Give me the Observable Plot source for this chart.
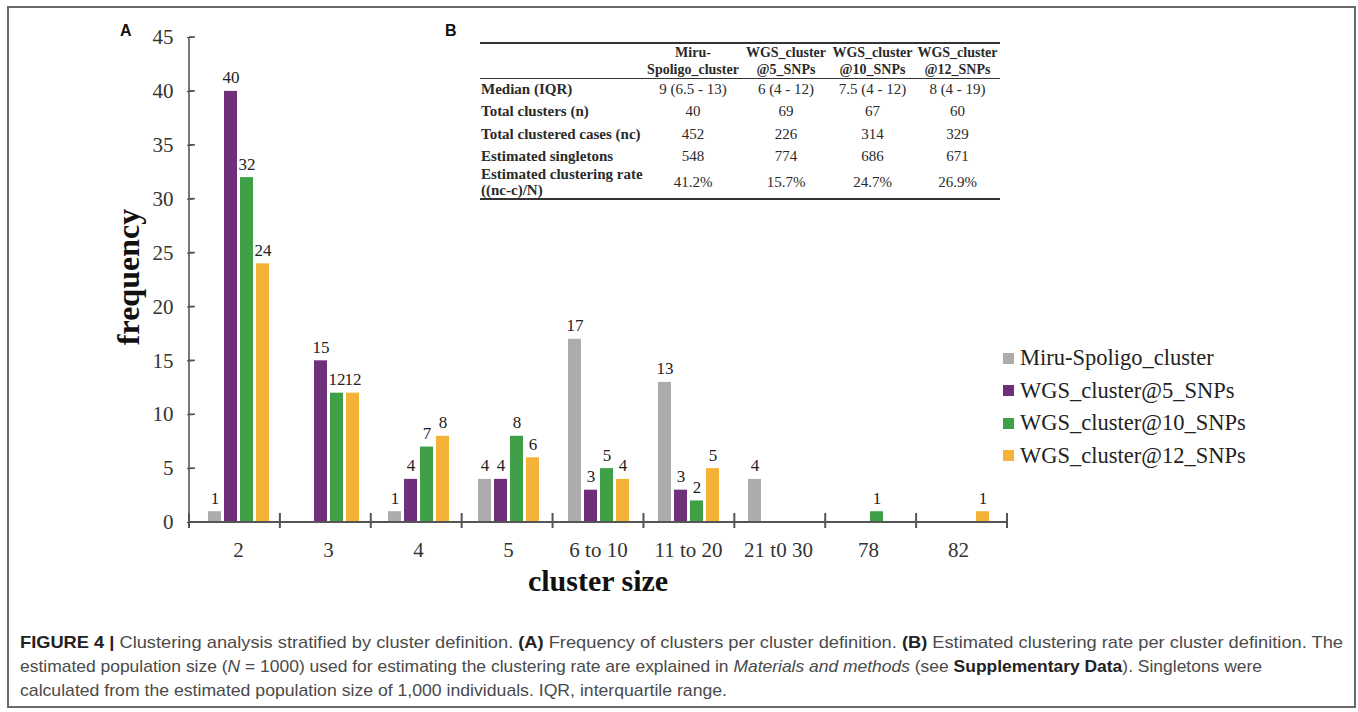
<!DOCTYPE html>
<html>
<head>
<meta charset="utf-8">
<script src="https://cdn.jsdelivr.net/npm/d3@7"></script>
<script src="https://cdn.jsdelivr.net/npm/@observablehq/plot@0.6"></script>
<style>
  html, body { margin: 0; padding: 0; background: #fff; }
  #page { position: relative; width: 1358px; height: 712px; overflow: hidden; background: #fff; }
  #box { position: absolute; left: 7px; top: 6px; width: 1345px; height: 698px; border: 2px solid #6a6a6a; box-sizing: content-box; }
  #chart { position: absolute; left: 0; top: 0; }
  .panel { position: absolute; font-family: "Liberation Sans", Arial, sans-serif; font-weight: bold; font-size: 16px; color: #111; }
  #ylabel { position: absolute; left: 128px; top: 277px; transform: translate(-50%, -50%) rotate(-90deg); font-family: "Liberation Serif", serif; font-weight: bold; font-size: 32px; color: #111; white-space: nowrap; }
  #xlabel { position: absolute; left: 598px; top: 563px; transform: translateX(-50%); font-family: "Liberation Serif", serif; font-weight: bold; font-size: 30px; color: #111; white-space: nowrap; line-height: 36px; }
  #legend { position: absolute; left: 1003px; top: 342px; font-family: "Liberation Serif", serif; font-size: 22.5px; color: #222; }
  #legend .row { height: 32.5px; display: flex; align-items: center; white-space: nowrap; }
  #legend .sw { width: 11px; height: 11px; margin-right: 6px; flex: none; }
  #tbl { position: absolute; left: 480px; top: 42px; width: 520px; border-collapse: collapse; font-family: "Liberation Serif", serif; font-size: 15px; color: #2a2a2a; table-layout: fixed; }
  #tbl th, #tbl td { padding: 0; }
  #tbl thead tr { border-top: 2px solid #333; border-bottom: 1.5px solid #333; }
  #tbl thead th { height: 33px; vertical-align: bottom; text-align: center; font-weight: bold; font-size: 14px; line-height: 17px; padding-bottom: 0px; white-space: nowrap; }
  #tbl tbody tr:last-child { border-bottom: 2px solid #333; }
  #tbl td { text-align: center; vertical-align: middle; line-height: 16px; white-space: nowrap; }
  #tbl td.lab { text-align: left; font-weight: bold; padding-left: 1px; }
  #caption { position: absolute; left: 20px; top: 631px; font-family: "Liberation Sans", Arial, sans-serif; font-size: 17px; color: #4a4a4a; line-height: 24px; }
  #caption .line { white-space: nowrap; transform-origin: 0 50%; display: block; width: max-content; }
  #caption b { color: #222; }
</style>
</head>
<body>
<div id="page">
  <div id="box"></div>
  <div id="chart"></div>
  <div class="panel" style="left:120px; top:22px;">A</div>
  <div class="panel" style="left:445px; top:22px;">B</div>
  <div id="ylabel">frequency</div>
  <div id="xlabel">cluster size</div>
  <div id="legend"></div>
  <table id="tbl"></table>
  <div id="caption"></div>
</div>
<script>
// ---------- Data ----------
const categories = ["2", "3", "4", "5", "6 to 10", "11 to 20", "21 t0 30", "78", "82"];
const seriesNames = ["Miru-Spoligo_cluster", "WGS_cluster@5_SNPs", "WGS_cluster@10_SNPs", "WGS_cluster@12_SNPs"];
const seriesColors = ["#acacac", "#6f2f7b", "#40a048", "#f4b338"];
const miruSpoligo = [1, 0, 1, 4, 17, 13, 4, 0, 0];
const wgs5 = [40, 15, 4, 4, 3, 3, 0, 0, 0];
const wgs10 = [32, 12, 7, 8, 5, 2, 0, 1, 0];
const wgs12 = [24, 12, 8, 6, 4, 5, 0, 0, 1];
const yTicks = [0, 5, 10, 15, 20, 25, 30, 35, 40, 45];

// Table (panel B)
const tableHeaders = ["Miru-<br>Spoligo_cluster", "WGS_cluster<br>@5_SNPs", "WGS_cluster<br>@10_SNPs", "WGS_cluster<br>@12_SNPs"];
const tableRowLabels = ["Median (IQR)", "Total clusters (n)", "Total clustered cases (nc)", "Estimated singletons", "Estimated clustering rate<br>((nc-c)/N)"];
const medianIQR = ["9 (6.5 - 13)", "6 (4 - 12)", "7.5 (4 - 12)", "8 (4 - 19)"];
const totalClusters = ["40", "69", "67", "60"];
const totalClusteredCases = ["452", "226", "314", "329"];
const estimatedSingletons = ["548", "774", "686", "671"];
const clusteringRate = ["41.2%", "15.7%", "24.7%", "26.9%"];

const captionLines = [
  '<b>FIGURE 4 |</b> Clustering analysis stratified by cluster definition. <b>(A)</b> Frequency of clusters per cluster definition. <b>(B)</b> Estimated clustering rate per cluster definition. The',
  'estimated population size (<i>N</i> = 1000) used for estimating the clustering rate are explained in <i>Materials and methods</i> (see <b>Supplementary Data</b>). Singletons were',
  'calculated from the estimated population size of 1,000 individuals. IQR, interquartile range.'
];
const captionLineWidths = [1323, 1242, 707];

// ---------- Build rows ----------
const seriesValues = [miruSpoligo, wgs5, wgs10, wgs12];
const rows = [];
categories.forEach((c, i) => {
  seriesNames.forEach((s, j) => {
    const v = seriesValues[j][i];
    if (v > 0) rows.push({category: c, series: s, value: v});
  });
});

const W = 1030, H = 600;
const chart = Plot.plot({
  width: W,
  height: H,
  marginLeft: 189,
  marginRight: 23,
  marginTop: 37,
  marginBottom: 78,
  style: {fontFamily: "Liberation Serif, Times New Roman, serif", fontSize: "21px", color: "#333", background: "transparent", overflow: "visible"},
  facet: {data: rows, x: "category"},
  fx: {domain: categories, padding: 0, label: null, tickSize: 0, tickPadding: 20},
  x: {domain: seriesNames, paddingInner: 0.21, paddingOuter: 0.86, axis: null},
  y: {domain: [0, 45], ticks: yTicks, tickSize: 6, tickPadding: 14, label: null},
  color: {domain: seriesNames, range: seriesColors},
  marks: [
    Plot.barY(rows, {x: "series", y: "value", fill: "series"}),
    Plot.text(rows, {x: "series", y: "value", text: d => String(d.value), lineAnchor: "bottom", dy: -8, fill: "#222", fontSize: 17})
  ]
});
document.getElementById("chart").appendChild(chart);

// ---------- Axis lines and category boundary ticks (from Plot's scales) ----------
const ys = chart.scale("y");
const fxs = chart.scale("fx");
const yOf = v => ys.apply(v);
const y0 = yOf(0), yTop = yOf(45);
const fr = fxs.range;
const step = (fr[1] - fr[0]) / categories.length;
const svg = d3.select(chart);
const g = svg.append("g").attr("stroke", "#555").attr("fill", "none");
const xLeft = fr[0];
g.append("line").attr("x1", xLeft).attr("x2", xLeft).attr("y1", yTop).attr("y2", y0).attr("stroke-width", 1.6);
yTicks.forEach(t => {
  g.append("line").attr("x1", xLeft).attr("x2", xLeft + 6).attr("y1", yOf(t)).attr("y2", yOf(t)).attr("stroke-width", 1.6);
});
g.append("line").attr("x1", fr[0]).attr("x2", fr[1]).attr("y1", y0).attr("y2", y0).attr("stroke-width", 2.2);
for (let i = 0; i <= categories.length; i++) {
  const x = fr[0] + i * step;
  g.append("line").attr("x1", x).attr("x2", x).attr("y1", y0 - 9).attr("y2", y0 + 6).attr("stroke-width", 2);
}

// ---------- Legend ----------
const legend = document.getElementById("legend");
seriesNames.forEach((s, j) => {
  const r = document.createElement("div");
  r.className = "row";
  r.innerHTML = `<span class="sw" style="background:${seriesColors[j]}"></span><span>${s}</span>`;
  legend.appendChild(r);
});

// ---------- Table ----------
const tbl = document.getElementById("tbl");
const rowData = [medianIQR, totalClusters, totalClusteredCases, estimatedSingletons, clusteringRate];
const rowHeights = [21, 22, 24, 20, 31];
let html = '<colgroup><col style="width:164px"><col style="width:98px"><col style="width:88px"><col style="width:85px"><col style="width:85px"></colgroup>';
html += '<thead><tr><th></th>' + tableHeaders.map(h => `<th>${h}</th>`).join("") + '</tr></thead><tbody>';
tableRowLabels.forEach((lab, i) => {
  html += `<tr style="height:${rowHeights[i]}px"><td class="lab">${lab}</td>` + rowData[i].map(v => `<td>${v}</td>`).join("") + '</tr>';
});
html += '</tbody>';
tbl.innerHTML = html;

// ---------- Caption ----------
const cap = document.getElementById("caption");
captionLines.forEach((l, i) => {
  const d = document.createElement("span");
  d.className = "line";
  d.innerHTML = l;
  cap.appendChild(d);
});
Array.from(cap.children).forEach((el, i) => {
  const k = captionLineWidths[i] / el.getBoundingClientRect().width;
  el.style.transform = `scaleX(${k})`;
});
</script>
</body>
</html>
